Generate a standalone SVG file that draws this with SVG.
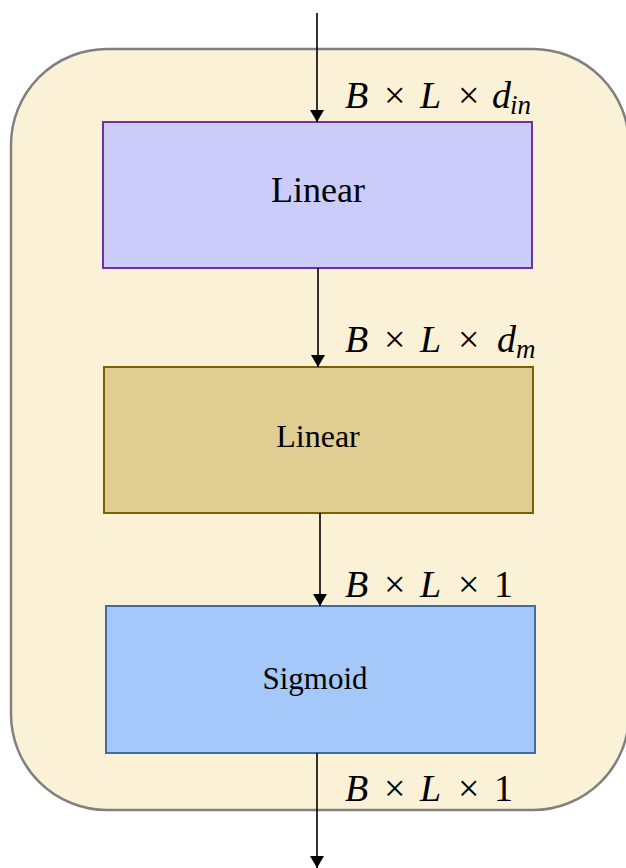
<svg xmlns="http://www.w3.org/2000/svg" width="626" height="868" viewBox="0 0 626 868">
  <style>
    .node-label { font-family: "Liberation Serif", "Times New Roman", serif; fill: #000; text-anchor: middle; }
    .math { font-family: "Liberation Serif", "Times New Roman", serif; font-size: 38px; fill: #000; }
    .math .v { font-style: italic; }
    .math .sub { font-style: italic; font-size: 27px; }
    .wire { stroke: #000; stroke-width: 1.6; fill: none; marker-end: url(#head); }
  </style>
  <defs>
    <marker id="head" viewBox="0 0 12 14" refX="12" refY="7" markerWidth="12" markerHeight="14" markerUnits="userSpaceOnUse" orient="auto">
      <path d="M0,0 L12,7 L0,14 Z" fill="#000"/>
    </marker>
  </defs>

  <!-- enclosing module -->
  <g id="module">
    <rect x="11" y="49" width="618" height="761" rx="96" ry="96" fill="#fbf1d6" stroke="#808080" stroke-width="2.5"/>
  </g>

  <g id="linear-in">
    <rect x="103" y="122" width="429" height="146" fill="#ccccfa" stroke="#7030a0" stroke-width="2"/>
    <text class="node-label" x="318" y="202" font-size="36">Linear</text>
  </g>

  <g id="linear-out">
    <rect x="104" y="367" width="429" height="146" fill="#dfcd92" stroke="#7f6000" stroke-width="2"/>
    <text class="node-label" x="318" y="447" font-size="32">Linear</text>
  </g>

  <g id="sigmoid">
    <rect x="106" y="606" width="429" height="147" fill="#a4c8fa" stroke="#3a6ea5" stroke-width="2"/>
    <text class="node-label" x="315" y="689" font-size="31">Sigmoid</text>
  </g>

  <g id="connectors">
    <line class="wire" x1="317" y1="13" x2="317" y2="122"/>
    <line class="wire" x1="318" y1="268" x2="318" y2="367"/>
    <line class="wire" x1="320" y1="513" x2="320" y2="606"/>
    <line class="wire" x1="317" y1="753" x2="317" y2="868"/>
  </g>

  <g id="shapes">
    <text class="math" y="108"><tspan class="v" x="345">B</tspan><tspan x="384">×</tspan><tspan class="v" x="420">L</tspan><tspan x="458">×</tspan><tspan class="v" x="492">d</tspan><tspan class="sub" x="510" y="114">in</tspan></text>
    <text class="math" y="352"><tspan class="v" x="345">B</tspan><tspan x="384">×</tspan><tspan class="v" x="420">L</tspan><tspan x="458">×</tspan><tspan class="v" x="497">d</tspan><tspan class="sub" x="516" y="358">m</tspan></text>
    <text class="math" y="597"><tspan class="v" x="345">B</tspan><tspan x="384">×</tspan><tspan class="v" x="420">L</tspan><tspan x="458">×</tspan><tspan x="494">1</tspan></text>
    <text class="math" y="801"><tspan class="v" x="345">B</tspan><tspan x="384">×</tspan><tspan class="v" x="420">L</tspan><tspan x="458">×</tspan><tspan x="494">1</tspan></text>
  </g>
</svg>
